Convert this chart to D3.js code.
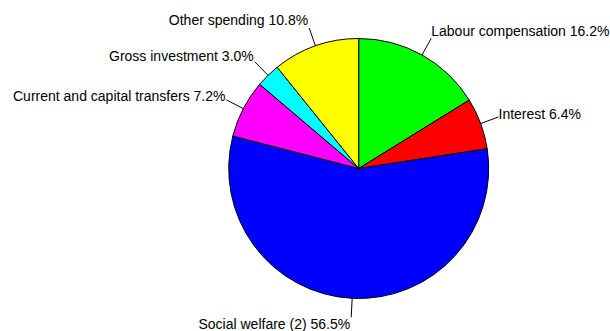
<!DOCTYPE html>
<html>
<head>
<meta charset="utf-8">
<script src="https://cdn.jsdelivr.net/npm/d3@7"></script>
<style>
  html, body { margin: 0; padding: 0; background: #fff; }
  svg { display: block; }
</style>
</head>
<body>
<svg id="chart" width="610" height="331"></svg>
<script>
// Government expenditure breakdown, shares of total (%)
const categories = [
  "Labour compensation",
  "Interest",
  "Social welfare (2)",
  "Current and capital transfers",
  "Gross investment",
  "Other spending"
];
const shares = [16.2, 6.4, 56.5, 7.2, 3.0, 10.8];
const sliceColors = ["#00ff00", "#ff0000", "#0000ff", "#ff00ff", "#00ffff", "#ffff00"];

const data = categories.map((c, i) => ({ name: c, value: shares[i], color: sliceColors[i] }));

const width = 610, height = 331;
const cx = 358.7, cy = 168.5, radius = 130;
const lineEnd = 149;

const svg = d3.select("#chart");
svg.append("rect").attr("width", width).attr("height", height).attr("fill", "#fff");

const g = svg.append("g").attr("transform", `translate(${cx},${cy})`);

// Slices run clockwise from 12 o'clock in the given order
const pie = d3.pie().value(d => d.value).sort(null);
const arcs = pie(data);
const arc = d3.arc().innerRadius(0).outerRadius(radius);

g.selectAll("path.slice")
  .data(arcs)
  .join("path")
  .attr("class", "slice")
  .attr("d", arc)
  .attr("fill", d => d.data.color)
  .attr("stroke", "#000")
  .attr("stroke-width", 1)
  .attr("stroke-linejoin", "round");

// Leader lines and labels
const fmt = d3.format(".1f");
arcs.forEach(d => {
  const a = (d.startAngle + d.endAngle) / 2;
  const sx = Math.sin(a), cyv = -Math.cos(a);
  const x0 = sx * radius, y0 = cyv * radius;
  const x1 = sx * lineEnd, y1 = cyv * lineEnd;
  g.append("line")
    .attr("x1", x0).attr("y1", y0)
    .attr("x2", x1).attr("y2", y1)
    .attr("stroke", "#000")
    .attr("stroke-width", 1);
  g.append("text")
    .attr("x", x1 + (x1 < 0 ? -1 : 0))
    .attr("y", y1 - (Math.cos(a) > 0 ? 8 : 7) * Math.cos(a))
    .attr("dy", "0.35em")
    .attr("text-anchor", x1 < 0 ? "end" : "start")
    .attr("font-family", "'Liberation Sans', Arial, sans-serif")
    .attr("font-size", 14)
    .attr("fill", "#000")
    .text(`${d.data.name} ${fmt(d.data.value)}%`);
});
</script>
</body>
</html>
